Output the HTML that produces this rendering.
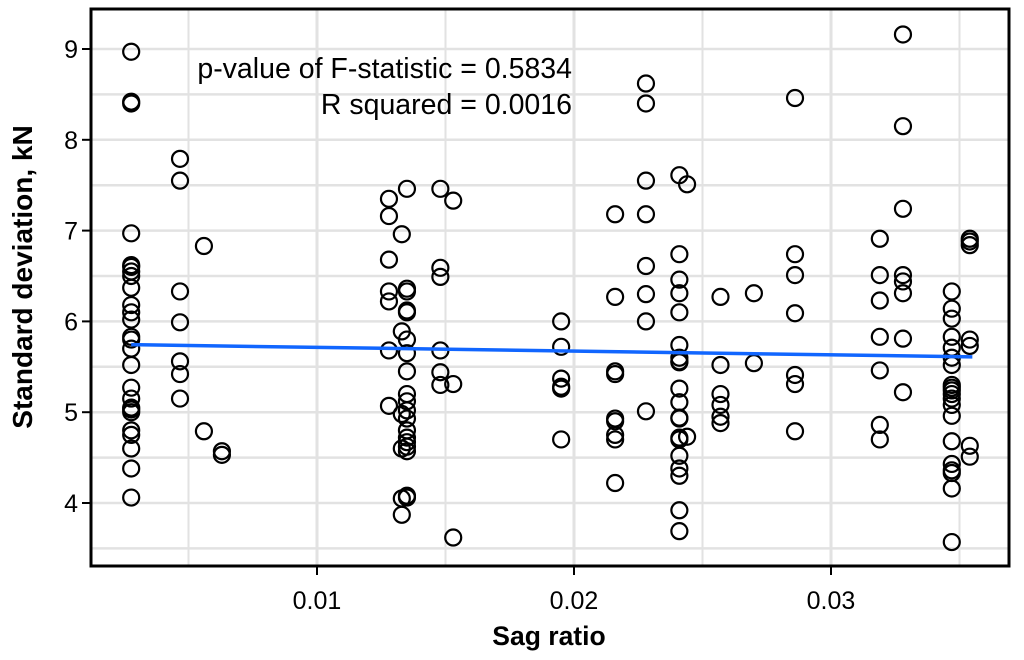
<!DOCTYPE html>
<html><head><meta charset="utf-8"><style>
body{margin:0;background:#fff;}
svg{display:block;font-family:"Liberation Sans",Arial,sans-serif;}
</style></head><body>
<svg id="chart" width="1024" height="660">
<g id="grid"></g>
<g id="pts"></g>
<g id="fit"></g>
<rect x="91" y="9" width="918" height="557" fill="none" stroke="#000" stroke-width="3"/>
<g id="axes"></g>
<text x="572" y="78" text-anchor="end" font-size="28.5">p-value of F-statistic = 0.5834</text>
<text x="572" y="114" text-anchor="end" font-size="28.5">R squared = 0.0016</text>
<text x="549" y="645" text-anchor="middle" font-size="26.5" font-weight="bold">Sag ratio</text>
<text transform="translate(32,277) rotate(-90)" text-anchor="middle" font-size="28" font-weight="bold">Standard deviation, kN</text>
</svg>
<script>
const xTicks=[0.01,0.02,0.03];
const xTickLabels=["0.01","0.02","0.03"];
const yTicks=[4,5,6,7,8,9];
const yTickLabels=["4","5","6","7","8","9"];
const groupX=[0.00277,0.00467,0.0056,0.0063,0.0128,0.0133,0.0135,0.0148,0.0153,0.0195,0.0216,0.0228,0.0241,0.0244,0.0257,0.027,0.0286,0.0319,0.0328,0.0347,0.0354];
const groupY=[
[8.97,8.42,8.40,6.97,6.62,6.60,6.55,6.50,6.37,6.18,6.10,6.02,5.83,5.80,5.70,5.52,5.27,5.15,5.05,5.03,5.00,4.80,4.75,4.60,4.38,4.06],
[7.79,7.55,6.33,5.99,5.56,5.42,5.15],
[6.83,4.79],
[4.57,4.53],
[7.35,7.16,6.68,6.33,6.22,5.68,5.07],
[6.96,5.89,4.98,4.60,4.05,3.87],
[7.46,6.36,6.33,6.12,6.10,5.80,5.65,5.45,5.20,5.12,5.02,4.93,4.80,4.72,4.67,4.62,4.57,4.08,4.06],
[7.46,6.59,6.49,5.68,5.44,5.30],
[7.33,5.31,3.62],
[6.00,5.72,5.37,5.28,5.26,4.70],
[7.18,6.27,5.45,5.42,4.93,4.90,4.75,4.70,4.22],
[8.62,8.40,7.55,7.18,6.61,6.30,6.00,5.01],
[7.61,6.74,6.46,6.31,6.10,5.74,5.60,5.56,5.55,5.26,5.11,4.94,4.93,4.72,4.70,4.52,4.38,4.30,3.92,3.69],
[7.51,4.73],
[6.27,5.52,5.20,5.08,4.95,4.88],
[6.31,5.54],
[8.46,6.74,6.51,6.09,5.41,5.31,4.79],
[6.91,6.51,6.23,5.83,5.46,4.86,4.70],
[9.16,8.15,7.24,6.51,6.44,6.31,5.81,5.22],
[6.33,6.14,6.03,5.83,5.71,5.60,5.52,5.30,5.27,5.24,5.20,5.15,5.08,4.96,4.68,4.43,4.36,4.33,4.16,3.57],
[6.91,6.88,6.84,5.80,5.73,4.63,4.51]
];
const fitRange=[0.00277,0.0355];
const fitCoef=[5.755,-4.1];

const NS="http://www.w3.org/2000/svg";
function X(v){return 317+(v-0.01)*25700;}
function Y(v){return 49+(9-v)*90.8;}
function mk(tag,attrs,parent){const e=document.createElementNS(NS,tag);for(const k in attrs)e.setAttribute(k,attrs[k]);parent.appendChild(e);return e;}
const grid=document.getElementById('grid'),axes=document.getElementById('axes'),pts=document.getElementById('pts'),fit=document.getElementById('fit');
for(let v=0.005;v<0.04;v+=0.005){const x=X(v);if(x<92||x>1008)continue;
 const l=mk('line',{x1:x,x2:x,y1:9,y2:566,stroke:'#e2e2e2','stroke-width':Math.abs(v*100-Math.round(v*100))<1e-6?3:2},grid);
 }
for(let v=3.5;v<=9.5;v+=0.5){const y=Y(v);if(y<10||y>565)continue;
 const l=mk('line',{x1:91,x2:1009,y1:y,y2:y,stroke:'#e2e2e2','stroke-width':2.5},grid);
 }
xTicks.forEach((v,i)=>{const x=X(v);
 const t=mk('line',{x1:x,x2:x,y1:566,y2:575,stroke:'#000','stroke-width':2},axes);
 
 const s=mk('text',{x:x,y:609,'text-anchor':'middle','font-size':25},axes);s.textContent=xTickLabels[i];
 });
yTicks.forEach((v,i)=>{const y=Y(v);
 const t=mk('line',{x1:82,x2:91,y1:y,y2:y,stroke:'#000','stroke-width':2},axes);
 
 const s=mk('text',{x:78,y:y+9,'text-anchor':'end','font-size':25},axes);s.textContent=yTickLabels[i];
 });
groupX.forEach((gx,i)=>{groupY[i].forEach(v=>{
 const c=mk('circle',{cx:X(gx),cy:Y(v),r:8,fill:'none',stroke:'#000','stroke-width':2.2},pts);
 });});
const l=mk('line',{x1:X(fitRange[0]),y1:Y(fitCoef[0]+fitCoef[1]*fitRange[0]),x2:X(fitRange[1]),y2:Y(fitCoef[0]+fitCoef[1]*fitRange[1]),stroke:'#1166ff','stroke-width':3.5},fit);

</script>
</body></html>
